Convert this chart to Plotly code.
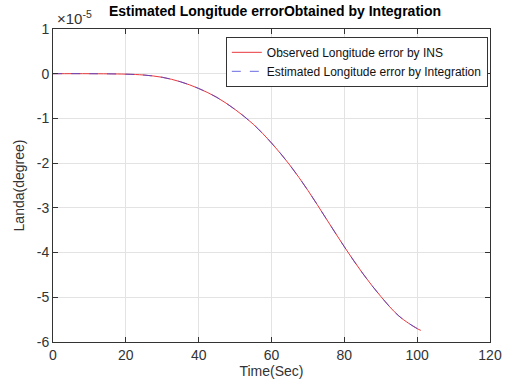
import plotly.graph_objects as go

# Time axis (s) and longitude error, in units of 1e-5 degree
time_sec = [0, 10, 20, 25, 30, 35, 40, 45, 50, 55, 60, 65, 70, 75, 80, 85, 90, 95, 100, 101]
observed_ins = [0, 0, -0.01, -0.03, -0.08, -0.18, -0.33, -0.53, -0.80, -1.13, -1.55, -2.04,
                -2.61, -3.24, -3.87, -4.46, -4.98, -5.42, -5.70, -5.74]
estimated_int = [0, 0, -0.01, -0.03, -0.08, -0.18, -0.33, -0.53, -0.80, -1.13, -1.55, -2.04,
                 -2.61, -3.24, -3.87, -4.46, -4.98, -5.42, -5.70, -5.74]

x_ticks = [0, 20, 40, 60, 80, 100, 120]
y_ticks = [1, 0, -1, -2, -3, -4, -5, -6]
y_tick_text = ["1", "0", "-1", "-2", "-3", "-4", "-5", "-6"]

FONT = "Liberation Sans, Arial, Helvetica, sans-serif"
AXIS_COLOR = "#333333"
GRID_COLOR = "#e3e3e3"

fig = go.Figure()
fig.add_trace(go.Scatter(
    x=time_sec, y=observed_ins, mode="lines",
    name="Observed Longitude error by INS",
    line=dict(color="#e8383d", width=1, shape="spline", smoothing=1.0),
))
fig.add_trace(go.Scatter(
    x=time_sec, y=estimated_int, mode="lines",
    name="Estimated Longitude error by Integration",
    line=dict(color="#4646d8", width=1, dash="dash", shape="spline", smoothing=1.0),
    opacity=0.8,
))

axis_common = dict(
    showline=True, linecolor=AXIS_COLOR, linewidth=1, mirror="ticks",
    ticks="inside", ticklen=5, tickcolor=AXIS_COLOR,
    showgrid=True, gridcolor=GRID_COLOR, gridwidth=1,
    zeroline=False,
    tickfont=dict(family=FONT, size=14, color=AXIS_COLOR),
)

fig.update_xaxes(
    range=[0, 120], tickvals=x_ticks,
    title=dict(text="Time(Sec)", font=dict(family=FONT, size=14, color=AXIS_COLOR), standoff=4),
    **axis_common,
)
fig.update_yaxes(
    range=[-6, 1], tickvals=y_ticks, ticktext=y_tick_text,
    title=dict(text="Landa(degree)", font=dict(family=FONT, size=14, color=AXIS_COLOR), standoff=8),
    **axis_common,
)

fig.update_layout(
    width=514, height=389,
    margin=dict(l=53, r=14, t=29, b=41),
    paper_bgcolor="white", plot_bgcolor="white",
    font=dict(family=FONT, size=13, color=AXIS_COLOR),
    title=dict(
        text="<b>Estimated Longitude errorObtained by Integration</b>",
        x=0.535, xanchor="center", y=0.985, yanchor="top",
        font=dict(family=FONT, size=14, color="#000000"),
    ),
    legend=dict(
        x=0.995, xanchor="right", y=0.975, yanchor="top",
        bgcolor="white", bordercolor=AXIS_COLOR, borderwidth=1,
        font=dict(family=FONT, size=12, color="#111111"),
        tracegroupgap=0, itemwidth=30,
    ),
    annotations=[dict(
        text="\u00d710<sup>-5</sup>", xref="paper", yref="paper",
        x=0.005, y=1.0, xanchor="left", yanchor="bottom", yshift=0,
        showarrow=False, font=dict(family=FONT, size=15, color=AXIS_COLOR),
    )],
)

fig.write_html("out.html")
